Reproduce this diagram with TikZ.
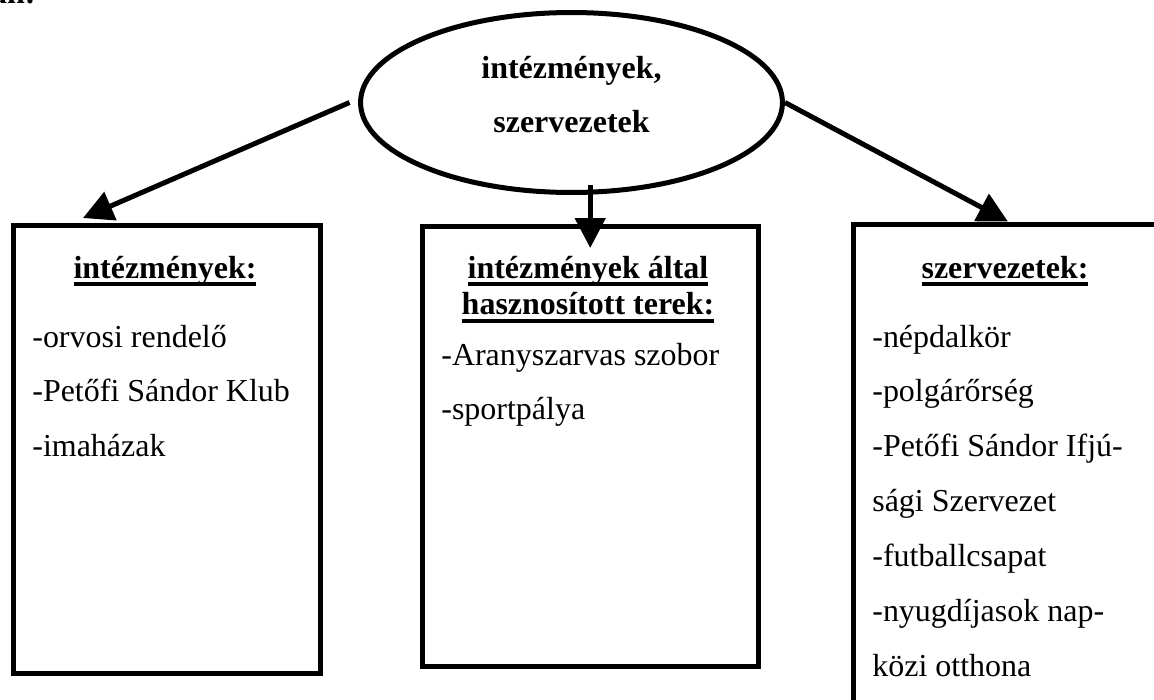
\documentclass[tikz,border=0pt]{standalone}
\usepackage{fontspec}
\setmainfont{Liberation Serif}
\usetikzlibrary{shapes.geometric, arrows.meta, calc}
\newcommand{\undr}[1]{\setbox0\hbox{#1}\rlap{\rule[-0.25em]{\wd0}{0.13em}}\box0}
\tikzset{
  hubshape/.style={ellipse, draw=black, line width=2.85pt, minimum width=8.44cm, minimum height=3.6cm, inner sep=0pt},
  listbox/.style={rectangle, draw=black, line width=2.85pt, anchor=north west, inner sep=0pt},
  heading/.style={anchor=base, inner sep=0pt, font=\fontsize{18.2}{21}\selectfont\bfseries},
  entry/.style={anchor=base west, inner sep=0pt, font=\fontsize{18.2}{21}\selectfont},
  link/.style={line width=2.85pt, -{Triangle[length=0.6cm, width=0.6cm]}}
}

\begin{document}
\begin{tikzpicture}[x=0.02cm, y=-0.02cm]
\useasboundingbox (0,0) rectangle (1154,700);

% cut-off text at the top
\node (cut) [heading, anchor=base east] at (36,3) {an:};

% Ellipse
\node (hub) [hubshape] at (571.5,102.5) {};
\node (hubA) [heading] at (571.5,78) {intézmények,};
\node (hubB) [heading] at ([yshift=-1.1cm]hubA.base) {szervezetek};

% Boxes
\node (lbox) [listbox, minimum width=6.15cm, minimum height=8.97cm] at (10.5,222.5) {};
\node (mbox) [listbox, minimum width=6.73cm, minimum height=8.82cm] at (419.5,223.5) {};
\node (rbox) [listbox, minimum width=7cm, minimum height=10.8cm] at (850.5,221.5) {};

% Left box
\node (ltitle) [heading] at (165,278) {\undr{intézmények:}};
\node (l1) [entry] at (32,347) {-orvosi rendelő};
\node (l2) [entry] at ([yshift=-1.1cm]l1.base west) {-Petőfi Sándor Klub};
\node (l3) [entry] at ([yshift=-1.1cm]l2.base west) {-imaházak};

% Middle box
\node (mtitleA) [heading] at (588,278) {\undr{intézmények által}};
\node (mtitleB) [heading] at ([yshift=-0.74cm]mtitleA.base) {\undr{hasznosított terek:}};
\node (m1) [entry] at (441,365) {-Aranyszarvas szobor};
\node (m2) [entry] at ([yshift=-1.1cm]m1.base west) {-sportpálya};

% Right box
\node (rtitle) [heading] at (1005,278) {\undr{szervezetek:}};
\node (r1) [entry] at (872,347) {-népdalkör};
\node (r2) [entry] at ([yshift=-1.1cm]r1.base west) {-polgárőrség};
\node (r3) [entry] at ([yshift=-1.1cm]r2.base west) {-Petőfi Sándor Ifjú-};
\node (r4) [entry] at ([yshift=-1.1cm]r3.base west) {sági Szervezet};
\node (r5) [entry] at ([yshift=-1.1cm]r4.base west) {-futballcsapat};
\node (r6) [entry] at ([yshift=-1.1cm]r5.base west) {-nyugdíjasok nap-};
\node (r7) [entry] at ([yshift=-1.1cm]r6.base west) {közi otthona};

% Arrows
\draw [link] ([xshift=-0.17cm]hub.west) -- ([xshift=1.45cm, yshift=0.09cm]lbox.north west);
\draw [link] ($(mbox.north |- hub.south)+(0,-9.5)$) -- ([yshift=-0.49cm]mbox.north);
\draw [link] (hub.east) -- ([xshift=3.15cm]rbox.north west);

\end{tikzpicture}
\end{document}
